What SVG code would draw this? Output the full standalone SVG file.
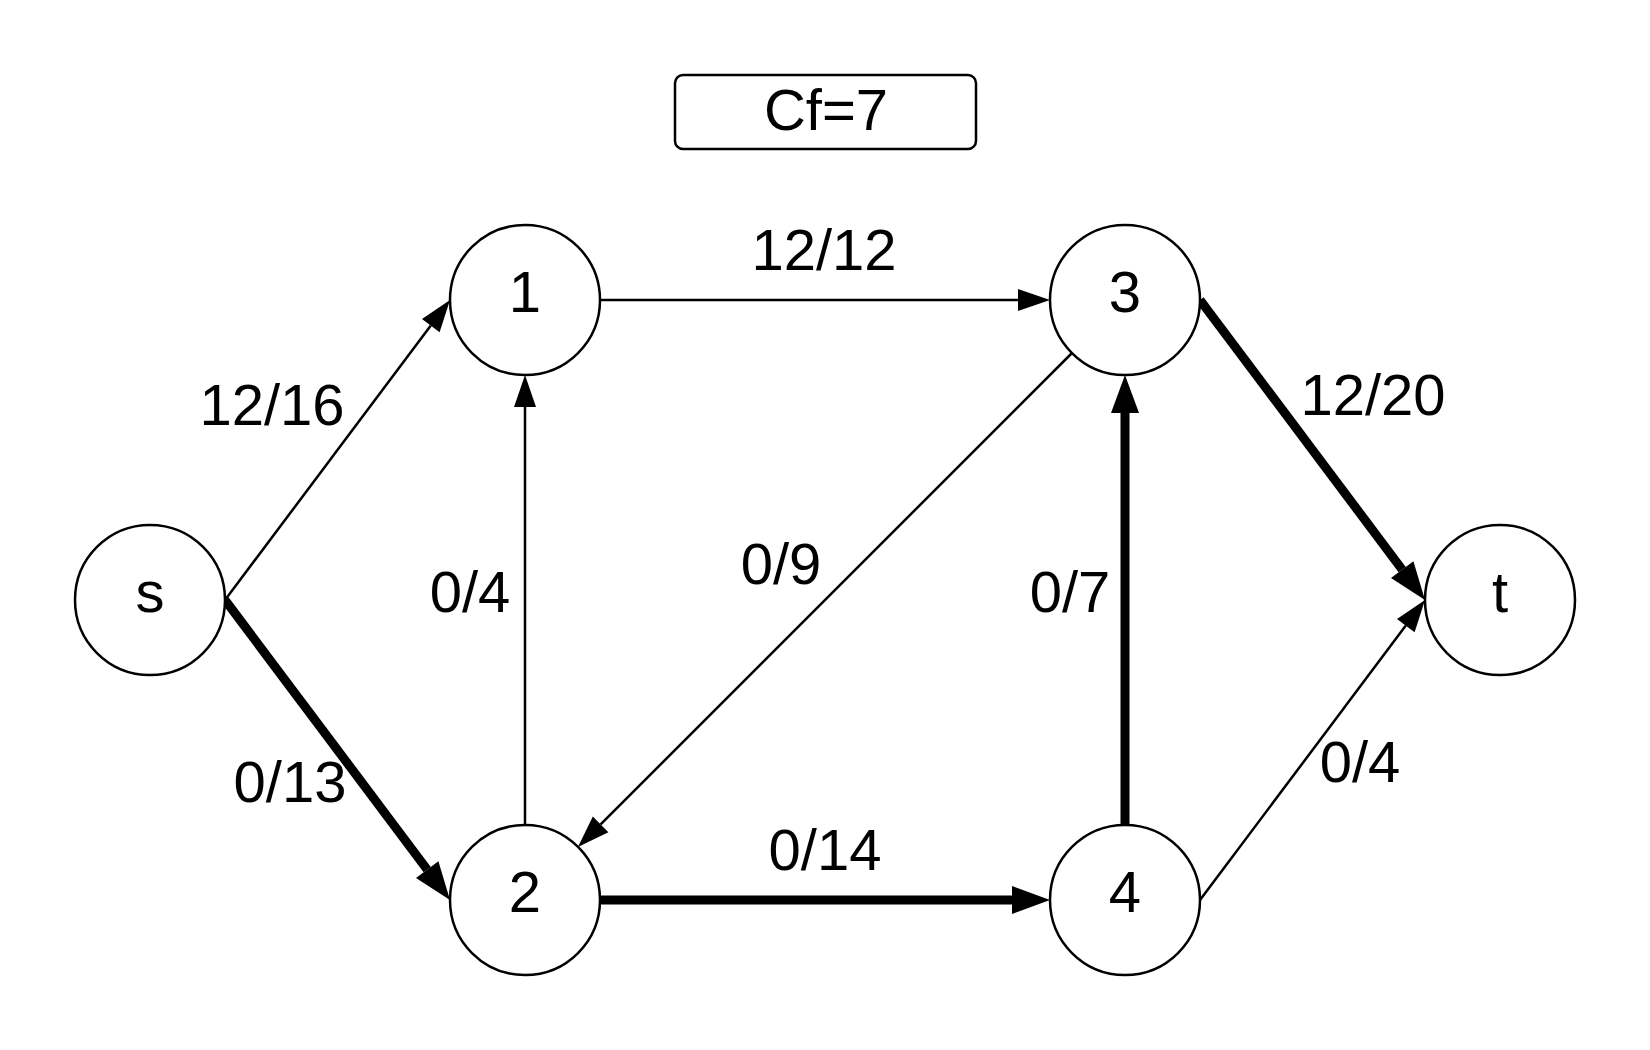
<svg xmlns="http://www.w3.org/2000/svg" width="1650" height="1050" viewBox="0 0 1650 1050">
<style>
.node circle{fill:#fff;stroke:#000;stroke-width:2.5}
text{font-family:"Liberation Sans",Arial,sans-serif;font-size:58px;fill:#000;text-anchor:middle}
.thin{stroke:#000;stroke-width:2.5;fill:none;marker-end:url(#ah)}
.thick{stroke:#000;stroke-width:9;fill:none;marker-end:url(#ahb)}
</style>
<defs>
<marker id="ah" markerUnits="userSpaceOnUse" markerWidth="34" markerHeight="24" refX="0" refY="11" orient="auto" overflow="visible">
<path d="M0,0 L32,11 L0,22 z" fill="#000"/>
</marker>
<marker id="ahb" markerUnits="userSpaceOnUse" markerWidth="40" markerHeight="30" refX="0" refY="14" orient="auto" overflow="visible">
<path d="M0,0 L38,14 L0,28 z" fill="#000"/>
</marker>
</defs>
<rect x="0" y="0" width="1650" height="1050" fill="#fff"/>
<g id="cf">
<rect x="675" y="75" width="301" height="74" rx="8" fill="#fff" stroke="#000" stroke-width="2.5"/>
<text x="826" y="130">Cf=7</text>
</g>
<g id="edges">
<line class="thin" x1="225" y1="600" x2="430.8" y2="325.6"/>
<line class="thick" x1="225" y1="600" x2="427.2" y2="869.6"/>
<line class="thin" x1="600" y1="300" x2="1018" y2="300"/>
<line class="thin" x1="525" y1="825" x2="525" y2="407"/>
<line class="thin" x1="1072" y1="353" x2="600.6" y2="824.4"/>
<line class="thick" x1="1200" y1="300" x2="1402.2" y2="569.6"/>
<line class="thick" x1="1125" y1="825" x2="1125" y2="413"/>
<line class="thick" x1="600" y1="900" x2="1012" y2="900"/>
<line class="thin" x1="1200" y1="900" x2="1405.8" y2="625.6"/>
</g>
<g id="edge-labels">
<text x="272" y="425">12/16</text>
<text x="290" y="802">0/13</text>
<text x="824" y="270">12/12</text>
<text x="470" y="612">0/4</text>
<text x="781" y="584">0/9</text>
<text x="1373" y="415">12/20</text>
<text x="1070" y="612">0/7</text>
<text x="825" y="870">0/14</text>
<text x="1360" y="782">0/4</text>
</g>
<g id="node-s" class="node"><circle cx="150" cy="600" r="75"/><text x="150" y="612">s</text></g>
<g id="node-1" class="node"><circle cx="525" cy="300" r="75"/><text x="525" y="312">1</text></g>
<g id="node-3" class="node"><circle cx="1125" cy="300" r="75"/><text x="1125" y="312">3</text></g>
<g id="node-2" class="node"><circle cx="525" cy="900" r="75"/><text x="525" y="912">2</text></g>
<g id="node-4" class="node"><circle cx="1125" cy="900" r="75"/><text x="1125" y="912">4</text></g>
<g id="node-t" class="node"><circle cx="1500" cy="600" r="75"/><text x="1500" y="612">t</text></g>
</svg>
